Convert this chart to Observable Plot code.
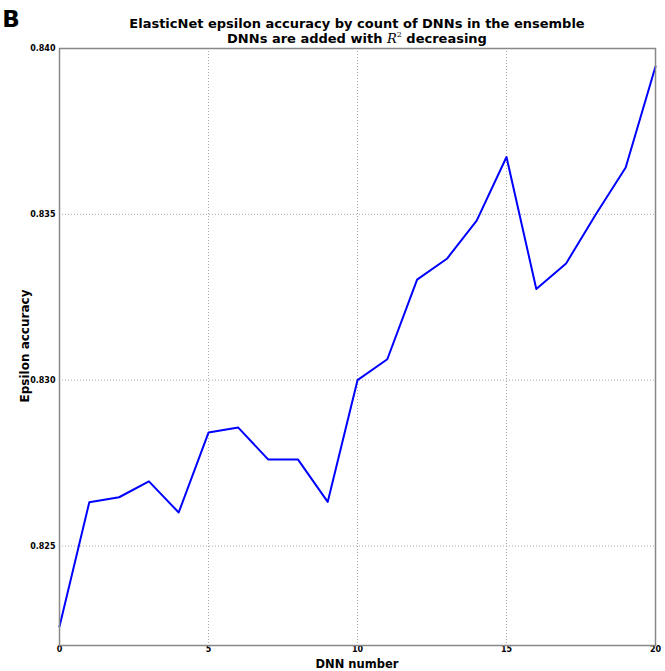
<!DOCTYPE html>
<html>
<head>
<meta charset="utf-8">
<script src="https://cdn.jsdelivr.net/npm/d3@7"></script>
<script src="https://cdn.jsdelivr.net/npm/@observablehq/plot@0.6"></script>
<style>
  html, body { margin: 0; padding: 0; background: #fff; }
  #chart svg { display: block; }
</style>
</head>
<body>
<div id="chart"></div>
<script>
const dnnNumber = [0, 1, 2, 3, 4, 5, 6, 7, 8, 9, 10, 11, 12, 13, 14, 15, 16, 17, 18, 19, 20];
const epsilonAccuracy = [0.82257, 0.82632, 0.82647, 0.82695, 0.82601, 0.82842, 0.82857, 0.82761, 0.82761, 0.82633,
  0.83000, 0.83063, 0.83303, 0.83366, 0.83481, 0.83673, 0.83275, 0.83352, 0.83500, 0.83641, 0.83946];
const xTicks = [0, 5, 10, 15, 20];
const yTicks = [0.825, 0.830, 0.835, 0.840];
const titleLine1 = "ElasticNet epsilon accuracy by count of DNNs in the ensemble";
const panelLabel = "B";

const data = dnnNumber.map((x, i) => ({x, y: epsilonAccuracy[i]}));

const W = 665, H = 671;
const chart = Plot.plot({
  width: W,
  height: H,
  marginLeft: 59,
  marginRight: 10,
  marginTop: 48,
  marginBottom: 26,
  style: {fontFamily: "DejaVu Sans", background: "#fff"},
  x: {domain: [0, 20], ticks: xTicks},
  y: {domain: [0.822, 0.840], ticks: yTicks},
  marks: [
    Plot.gridX(xTicks, {stroke: "#aaa", strokeOpacity: 1, strokeDasharray: "1,2", strokeWidth: 1}),
    Plot.gridY(yTicks, {stroke: "#aaa", strokeOpacity: 1, strokeDasharray: "1,2", strokeWidth: 1}),
    Plot.axisX({ticks: xTicks, tickSize: 0, tickPadding: 1, fontSize: 8, fontWeight: "bold", label: null, tickFormat: d3.format("d")}),
    Plot.axisY({ticks: yTicks, tickSize: 0, tickPadding: 4, fontSize: 8, fontWeight: "bold", label: null, tickFormat: d3.format(".3f")}),
    Plot.line(data, {x: "x", y: "y", stroke: "#0000ff", strokeWidth: 2}),
    Plot.frame({stroke: "#888", strokeWidth: 1.5})
  ]
});
document.getElementById("chart").appendChild(chart);

const svg = d3.select(chart);
svg.append("text")
  .attr("x", 11).attr("y", 27)
  .attr("font-family", "DejaVu Sans").attr("font-weight", "bold").attr("font-size", 23)
  .attr("fill", "#000")
  .text(panelLabel);

svg.append("text")
  .attr("x", 357).attr("y", 28)
  .attr("text-anchor", "middle")
  .attr("font-family", "DejaVu Sans").attr("font-weight", "bold").attr("font-size", 13)
  .attr("fill", "#000")
  .text(titleLine1);

const t2 = svg.append("text")
  .attr("x", 357).attr("y", 43)
  .attr("text-anchor", "middle")
  .attr("font-family", "DejaVu Sans").attr("font-weight", "bold").attr("font-size", 13)
  .attr("fill", "#000");
t2.append("tspan").text("DNNs are added with ");
t2.append("tspan").attr("font-family", "DejaVu Serif").attr("font-style", "italic").attr("font-weight", "normal").text("R");
t2.append("tspan").attr("font-family", "DejaVu Serif").attr("font-weight", "normal").attr("font-size", 8).attr("dy", -6).text("2");
t2.append("tspan").attr("dy", 6).text(" decreasing");

svg.append("text")
  .attr("x", 357).attr("y", 668)
  .attr("text-anchor", "middle")
  .attr("font-family", "DejaVu Sans").attr("font-weight", "bold").attr("font-size", 11.5)
  .attr("fill", "#000")
  .text("DNN number");

svg.append("text")
  .attr("transform", "translate(29,346) rotate(-90)")
  .attr("text-anchor", "middle")
  .attr("font-family", "DejaVu Sans").attr("font-weight", "bold").attr("font-size", 12)
  .attr("fill", "#000")
  .text("Epsilon accuracy");
</script>
</body>
</html>
